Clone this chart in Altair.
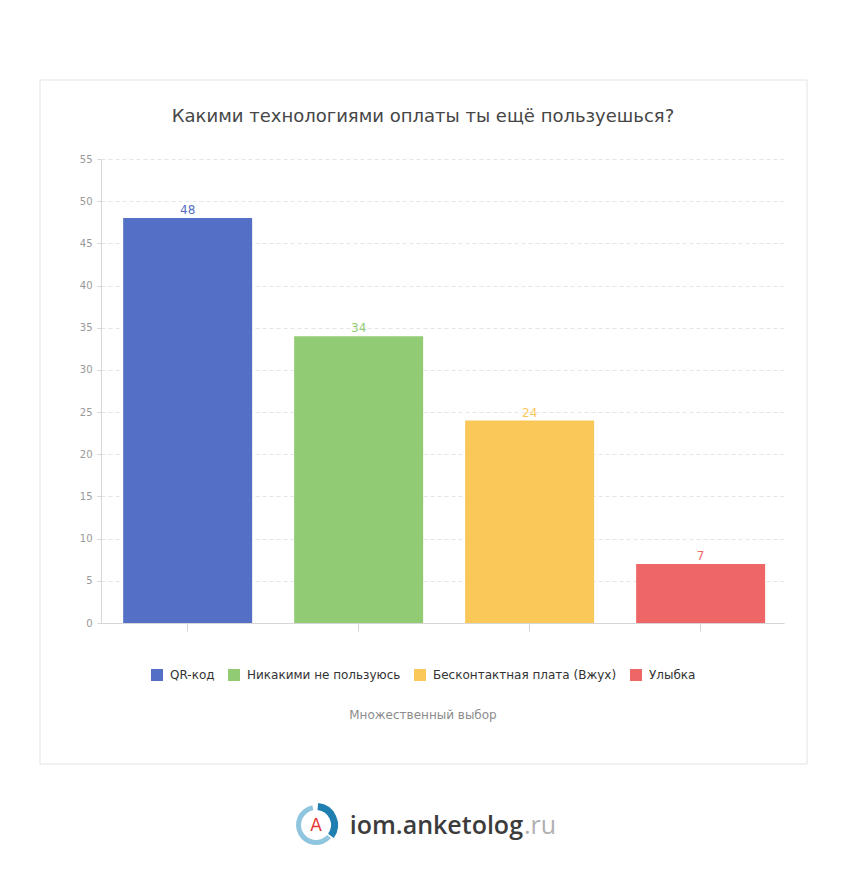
import altair as alt
import pandas as pd

title_text = "Какими технологиями оплаты ты ещё пользуешься?"
subtitle_text = "Множественный выбор"
categories = ["QR-код", "Никакими не пользуюсь", "Бесконтактная плата (Вжух)", "Улыбка"]
values = [48, 34, 24, 7]
colors = ["#5470c6", "#91cc75", "#fac858", "#ee6666"]
y_ticks = [0, 5, 10, 15, 20, 25, 30, 35, 40, 45, 50, 55]
logo_main = "iom.anketolog"
logo_tld = ".ru"
logo_letter = "A"

df = pd.DataFrame({"category": categories, "value": values})
one = pd.DataFrame({"k": [0]})

FONT = "DejaVu Sans"
AX = "#d6d6d6"

x_enc = alt.X(
    "category:N", sort=categories,
    scale=alt.Scale(paddingInner=0.2456, paddingOuter=0.12, align=0.54),
    axis=alt.Axis(labels=False, title=None, domainColor=AX, tickColor=AX,
                  tickSize=8, grid=False),
)
y_enc = alt.Y(
    "value:Q",
    scale=alt.Scale(domain=[0, 55], nice=False),
    axis=alt.Axis(values=y_ticks, title=None, labelColor="#999999", labelFontSize=10,
                  labelFont=FONT, tickSize=4, tickColor=AX, domainColor=AX,
                  gridColor="#e6e6e6", gridDash=[4, 3], labelPadding=5),
)
color_enc = alt.Color(
    "category:N", sort=categories,
    scale=alt.Scale(domain=categories, range=colors),
    legend=alt.Legend(orient="none", legendX=50, legendY=510, direction="horizontal",
                      title=None, symbolType="square", symbolSize=144,
                      symbolStrokeWidth=0, labelFont=FONT, labelFontSize=12,
                      labelColor="#333333", labelOffset=7, columnPadding=13,
                      labelLimit=400, padding=0),
)

base = alt.Chart(df)
bars = base.mark_bar().encode(x=x_enc, y=y_enc, color=color_enc)
labels = base.mark_text(dy=-8, fontSize=12, font=FONT, baseline="middle").encode(
    x=alt.X("category:N", sort=categories), y="value:Q", text="value:Q",
    color=alt.Color("category:N", sort=categories, legend=None),
)

card = alt.Chart(one).mark_rect(fillOpacity=0, stroke="#e3e3e3", strokeWidth=1).encode(
    x=alt.value(-61), x2=alt.value(706), y=alt.value(-79), y2=alt.value(605)
)
title = alt.Chart(pd.DataFrame({"t": [title_text]})).mark_text(
    font=FONT, fontSize=18, color="#464646", align="center", baseline="middle"
).encode(text="t:N", x=alt.value(322), y=alt.value(-42))
subtitle = alt.Chart(pd.DataFrame({"t": [subtitle_text]})).mark_text(
    font=FONT, fontSize=12, color="#8c8c8c", align="center", baseline="middle"
).encode(text="t:N", x=alt.value(322), y=alt.value(556))

ring_dark = alt.Chart(one).mark_arc(color="#1f7fb0").encode(
    x=alt.value(215), y=alt.value(666), radius=alt.value(22), radius2=alt.value(15),
    theta=alt.value(0.1), theta2=alt.value(2.2))
ring_light = alt.Chart(one).mark_arc(color="#8fc5de").encode(
    x=alt.value(215), y=alt.value(666), radius=alt.value(20), radius2=alt.value(15),
    theta=alt.value(2.3), theta2=alt.value(6.1))
letter = alt.Chart(pd.DataFrame({"t": [logo_letter]})).mark_text(
    font=FONT, fontSize=17, color="#e53935", align="center", baseline="middle"
).encode(text="t:N", x=alt.value(215), y=alt.value(667))
logo1 = alt.Chart(pd.DataFrame({"t": [logo_main]})).mark_text(
    font="Open Sans", fontSize=25, fontWeight=600, color="#3c3c3c", align="right",
    baseline="middle"
).encode(text="t:N", x=alt.value(422), y=alt.value(667))
logo2 = alt.Chart(pd.DataFrame({"t": [logo_tld]})).mark_text(
    font="Open Sans", fontSize=25, color="#b0b0b0", align="left", baseline="middle"
).encode(text="t:N", x=alt.value(423), y=alt.value(667))

chart = alt.layer(
    card, bars, labels, title, subtitle, ring_dark, ring_light, letter, logo1, logo2
).properties(
    width=683, height=464,
    autosize=alt.AutoSizeParams(type="none"),
    padding={"left": 93, "top": 151, "right": 50, "bottom": 240},
).configure_view(stroke=None)

chart.save("out.html", embed_options={"renderer": "svg", "actions": False})
